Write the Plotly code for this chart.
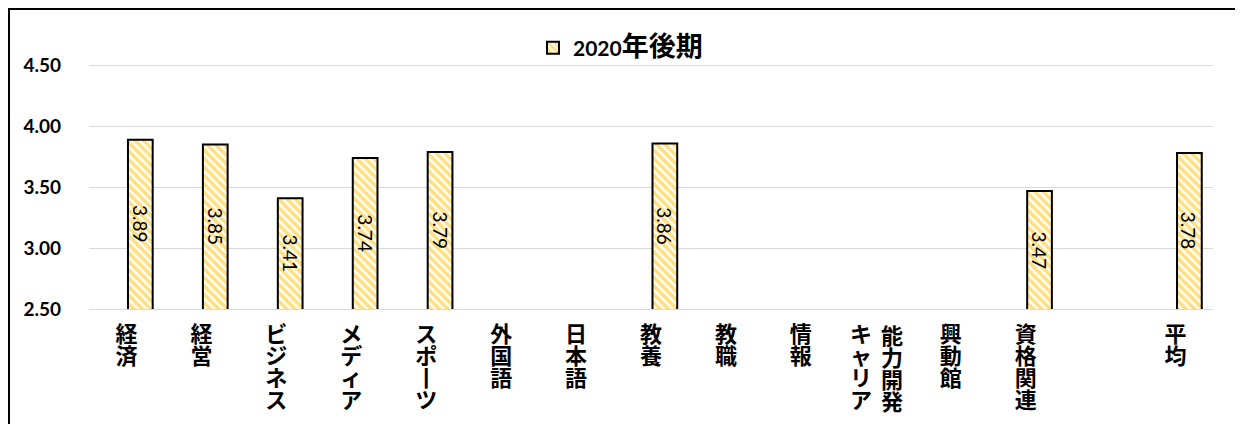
import plotly.graph_objects as go

categories = ["経済", "経営", "ビジネス", "メディア", "スポーツ", "外国語", "日本語", "教養",
              "教職", "情報", "キャリア能力開発", "興動館", "資格関連", " ", "平均"]
values_2020h2 = [3.89, 3.85, 3.41, 3.74, 3.79, None, None, 3.86,
                 None, None, None, None, 3.47, None, 3.78]
series_name = "2020年後期"
y_ticks = [2.5, 3.0, 3.5, 4.0, 4.5]
y_ticktext = ["2.50", "3.00", "3.50", "4.00", "4.50"]
y_min, y_max = 2.5, 4.75

BIG = 22
LINE = 16.9  # base size -> 1.3em line pitch ~22px


def vertical(s, big=BIG):
    s = s.replace("ー", "丨")
    return "<br>".join(f"<span style='font-size:{big}px'>{c}</span>" for c in s)


tick_text = []
for c in categories:
    if c == "キャリア能力開発" or not c.strip():
        tick_text.append("")
    else:
        tick_text.append(vertical(c))

FONT = "Lato, 'Noto Sans CJK JP', sans-serif"

# page body has an 8px margin: figure is sized/offset to compensate
W, H = 1235, 416
ML, MR, MT, MB = 81, 30, 27, 115
PW = W - ML - MR
PH = H - MT - MB

BAR_W, BAR_OFF = 0.33, 0.02
CAT_PX = PW / len(categories)

legend_name = series_name[:4] + f"<span style='font-size:27px'>{series_name[4:]}</span>"

fig = go.Figure()
fig.add_trace(go.Bar(
    x=categories, y=values_2020h2, name=legend_name,
    width=BAR_W, offset=BAR_OFF,
    marker=dict(color="white",
                line=dict(color="black", width=2),
                pattern=dict(shape="\\", fgcolor="#FFC000", bgcolor="white",
                             size=6, solidity=0.6)),
))

# value labels, rotated, centred in the visible part of each bar
for cat, v in zip(categories, values_2020h2):
    if v is None:
        continue
    fig.add_annotation(
        x=cat, y=(y_min + v) / 2, xref="x", yref="y",
        text=f"{v:.2f}", textangle=90, showarrow=False,
        xshift=(BAR_OFF + BAR_W / 2) * CAT_PX,
        font=dict(size=19, color="black", family=FONT),
    )

fig.update_layout(
    width=W, height=H,
    margin=dict(l=ML, r=MR, t=MT, b=MB, autoexpand=False),
    paper_bgcolor="white", plot_bgcolor="white",
    font=dict(family=FONT, color="black"),
    showlegend=True,
    legend=dict(orientation="h", x=(533 - 8 - ML) / PW, xanchor="left",
                y=(301 - (48 - 8)) / PH, yanchor="middle",
                font=dict(size=21, family=FONT, weight="bold"),
                bgcolor="rgba(0,0,0,0)"),
    bargap=0.67,
)
fig.update_xaxes(
    type="category", tickmode="array", tickvals=categories, ticktext=tick_text,
    tickangle=0, showgrid=False, showline=True, linecolor="#d9d9d9", linewidth=1,
    ticks="", tickfont=dict(size=LINE, family=FONT, weight="bold"),
    ticklabelstandoff=12, automargin=False,
)
fig.update_yaxes(
    range=[y_min, y_max], tickmode="array", tickvals=y_ticks, ticktext=y_ticktext,
    showgrid=True, gridcolor="#d9d9d9", gridwidth=1, zeroline=False,
    tickfont=dict(size=19, family=FONT, weight="bold"), ticks="",
    ticklabelstandoff=27, automargin=False,
)

# two-column label "キャリア能力開発"
for part, dx, dy in (("キャリア", -15, -9), ("能力開発", 16, -11)):
    fig.add_annotation(
        x="キャリア能力開発", y=0, xref="x", yref="paper", yanchor="top",
        text=vertical(part), showarrow=False, xshift=dx, yshift=dy,
        font=dict(size=LINE, family=FONT, weight="bold"),
    )

# chart-area border
fig.add_shape(type="rect", xref="paper", yref="paper",
              x0=(1 - ML) / PW, x1=1.05, y0=-0.5, y1=(PH + MT - 1) / PH,
              line=dict(color="black", width=2), fillcolor="rgba(0,0,0,0)")

fig.write_html("out.html")
